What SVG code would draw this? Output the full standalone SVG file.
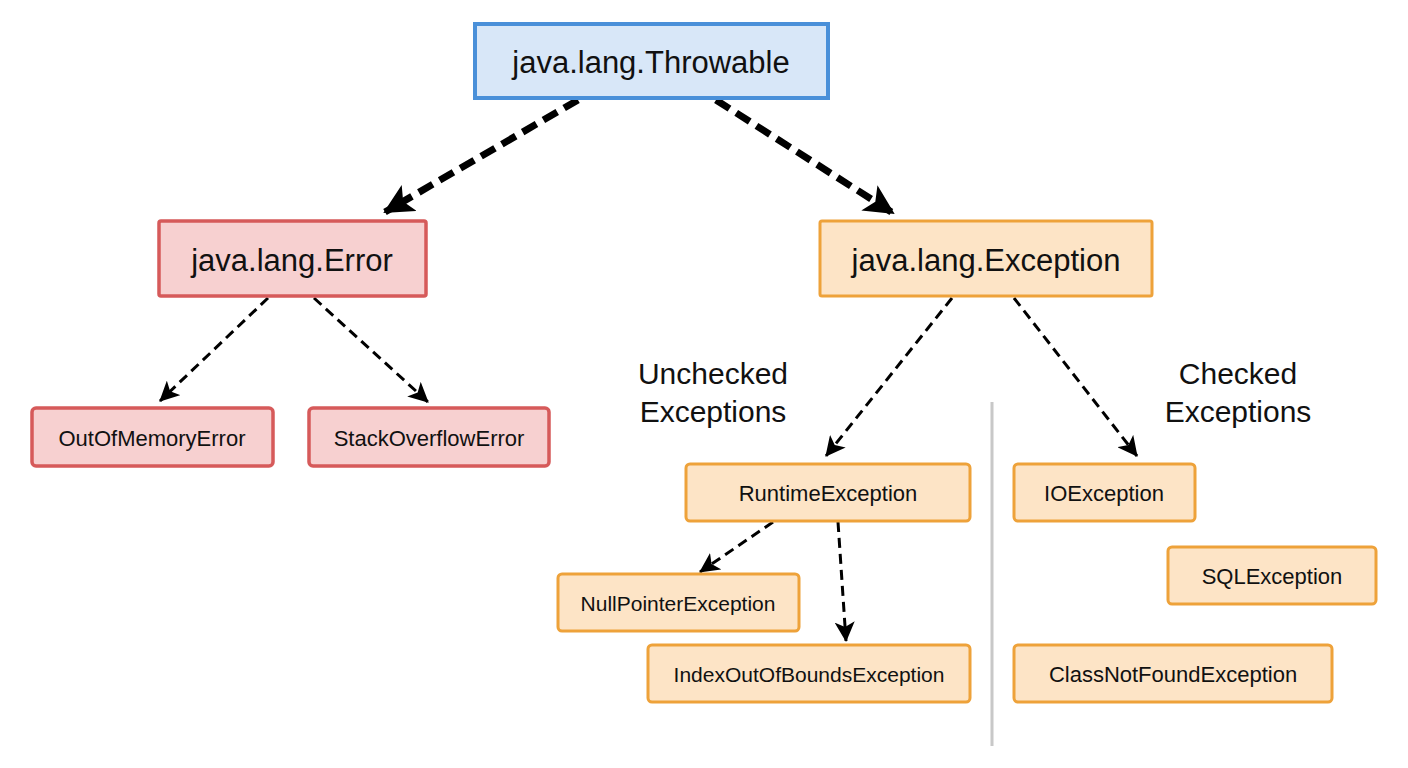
<svg xmlns="http://www.w3.org/2000/svg" width="1408" height="768" viewBox="0 0 1408 768">
<defs>
<marker id="big" markerUnits="userSpaceOnUse" markerWidth="32" markerHeight="30" refX="28" refY="15" orient="auto"><path d="M0,0 L30,15 L0,30 L7,15 Z" fill="#000"/></marker>
<marker id="sm" markerUnits="userSpaceOnUse" markerWidth="22" markerHeight="20" refX="19" refY="10" orient="auto"><path d="M0,0 L20,10 L0,20 L5,10 Z" fill="#000"/></marker>
<style>
text{font-family:"Liberation Sans",Arial,sans-serif;fill:#111;text-anchor:middle;dominant-baseline:central}
.blue{fill:#d8e7f8;stroke:#4a90d9;stroke-width:4}
.red{fill:#f7d0d0;stroke:#d65a5a;stroke-width:3.5}
.org{fill:#fde4c6;stroke:#eea23a;stroke-width:3}
.thick{stroke:#000;stroke-width:7;stroke-dasharray:16 8;fill:none;marker-end:url(#big)}
.thin{stroke:#000;stroke-width:3;stroke-dasharray:10 6;fill:none;marker-end:url(#sm)}
</style>
</defs>
<rect width="1408" height="768" fill="#fff"/>
<g id="connectors">
<line class="thick" x1="578" y1="100" x2="385" y2="212"/>
<line class="thick" x1="716" y1="100" x2="893" y2="213"/>
<line class="thin" x1="268" y1="298" x2="160" y2="401"/>
<line class="thin" x1="314" y1="298" x2="428" y2="402"/>
<line class="thin" x1="952" y1="298" x2="826" y2="456"/>
<line class="thin" x1="1014" y1="298" x2="1137" y2="456"/>
<line class="thin" x1="773" y1="522" x2="700" y2="572"/>
<line class="thin" x1="838" y1="522" x2="846" y2="641"/>
</g>
<line x1="992" y1="402" x2="992" y2="746" stroke="#c8c8c8" stroke-width="3"/>
<g id="throwable"><rect class="blue" x="475" y="24" width="353" height="74"/><text x="651" y="62" font-size="31">java.lang.Throwable</text></g>
<g id="error"><rect class="red" x="159" y="221" width="267" height="75" rx="2"/><text x="292" y="260" font-size="31">java.lang.Error</text></g>
<g id="exception"><rect class="org" x="820" y="221" width="332" height="75" rx="2"/><text x="986" y="260" font-size="31">java.lang.Exception</text></g>
<g id="oom"><rect class="red" x="32" y="408" width="241" height="58" rx="4"/><text x="152" y="438" font-size="22">OutOfMemoryError</text></g>
<g id="sof"><rect class="red" x="309" y="408" width="240" height="58" rx="4"/><text x="429" y="438" font-size="22">StackOverflowError</text></g>
<g id="runtime"><rect class="org" x="686" y="464" width="284" height="57" rx="4"/><text x="828" y="493" font-size="22">RuntimeException</text></g>
<g id="npe"><rect class="org" x="558" y="574" width="241" height="57" rx="4"/><text x="678" y="603" font-size="21">NullPointerException</text></g>
<g id="ioob"><rect class="org" x="648" y="645" width="322" height="57" rx="4"/><text x="809" y="674" font-size="21">IndexOutOfBoundsException</text></g>
<g id="io"><rect class="org" x="1014" y="464" width="181" height="57" rx="4"/><text x="1104" y="493" font-size="22">IOException</text></g>
<g id="sql"><rect class="org" x="1168" y="547" width="208" height="57" rx="4"/><text x="1272" y="576" font-size="22">SQLException</text></g>
<g id="cnf"><rect class="org" x="1014" y="645" width="318" height="57" rx="4"/><text x="1173" y="674" font-size="22">ClassNotFoundException</text></g>
<g id="labels">
<text x="713" y="373" font-size="30">Unchecked</text><text x="713" y="411" font-size="30">Exceptions</text>
<text x="1238" y="373" font-size="30">Checked</text><text x="1238" y="411" font-size="30">Exceptions</text>
</g>
</svg>
